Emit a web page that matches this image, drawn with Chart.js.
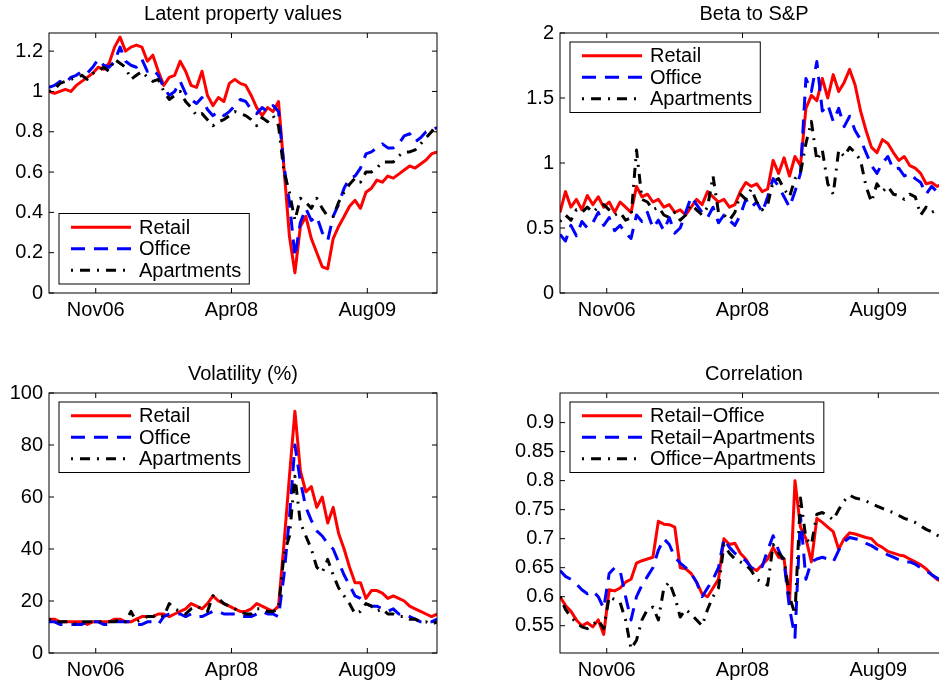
<!DOCTYPE html>
<html>
<head>
<meta charset="utf-8">
<script src="https://cdn.jsdelivr.net/npm/chart.js@4.4.1/dist/chart.umd.min.js"></script>
<style>
  html, body { margin: 0; padding: 0; background: #fff; overflow: hidden; width: 939px; height: 684px; }
  .panel { position: absolute; }
</style>
</head>
<body>
<div class="panel" style="left:0;top:0"><canvas id="latent" width="470" height="340"></canvas></div>
<div class="panel" style="left:470px;top:0"><canvas id="beta" width="500" height="340"></canvas></div>
<div class="panel" style="left:0;top:340px"><canvas id="vol" width="470" height="344"></canvas></div>
<div class="panel" style="left:470px;top:340px"><canvas id="corr" width="500" height="344"></canvas></div>
<script>
// x axis: days since start of sample, one observation every 20 days
var tickDays = [171, 668, 1165];
var tickNames = ['Nov06', 'Apr08', 'Aug09'];

var latentRetail = [1.00,0.99,1.00,1.01,1.00,1.03,1.05,1.07,1.09,1.12, 1.11,1.14,1.22,1.27,1.20,1.22,1.23,1.22,1.15,1.18,
    1.10,1.03,1.07,1.08,1.15,1.10,1.03,1.02,1.10,0.98, 0.93,0.97,0.95,1.04,1.06,1.04,1.03,0.98,0.92,0.88,
    0.92,0.90,0.95,0.62,0.28,0.10,0.33,0.38,0.27,0.20, 0.13,0.12,0.27,0.33,0.38,0.43,0.46,0.42,0.50,0.52,
    0.56,0.55,0.58,0.57,0.59,0.61,0.63,0.62,0.64,0.66, 0.69,0.70];
var latentOffice = [1.02,1.03,1.05,1.04,1.07,1.08,1.10,1.09,1.12,1.16, 1.13,1.12,1.15,1.22,1.15,1.13,1.12,1.16,1.10,1.11,
    1.08,1.02,0.98,1.00,1.05,0.99,0.96,0.94,0.97,0.91, 0.88,0.90,0.88,0.90,0.93,0.96,0.95,0.91,0.89,0.92,
    0.90,0.93,0.90,0.63,0.45,0.18,0.35,0.42,0.36,0.38, 0.30,0.26,0.38,0.44,0.52,0.57,0.58,0.62,0.69,0.70,
    0.72,0.74,0.72,0.72,0.74,0.78,0.79,0.75,0.77,0.80, 0.81,0.82];
var latentApart = [1.00,1.01,1.04,1.05,1.06,1.07,1.08,1.06,1.09,1.10, 1.12,1.10,1.16,1.14,1.12,1.06,1.08,1.10,1.07,1.05,
    1.06,1.00,0.96,0.98,1.00,0.95,0.92,0.88,0.89,0.86, 0.83,0.85,0.86,0.88,0.90,0.89,0.88,0.86,0.83,0.87,
    0.85,0.88,0.83,0.60,0.50,0.36,0.47,0.45,0.42,0.47, 0.42,0.38,0.38,0.45,0.50,0.54,0.57,0.55,0.60,0.60,
    0.62,0.65,0.65,0.65,0.68,0.70,0.70,0.71,0.74,0.77, 0.80,0.84];

var betaRetail = [0.62,0.78,0.66,0.72,0.64,0.75,0.68,0.74,0.66,0.70, 0.62,0.70,0.66,0.62,0.82,0.74,0.76,0.70,0.72,0.66,
    0.68,0.62,0.64,0.60,0.66,0.72,0.68,0.78,0.74,0.70, 0.72,0.66,0.68,0.78,0.85,0.82,0.84,0.78,0.80,1.02,
    0.92,1.04,0.90,1.05,0.98,1.42,1.52,1.48,1.65,1.50, 1.68,1.55,1.62,1.72,1.60,1.40,1.25,1.12,1.08,1.18,
    1.15,1.08,1.02,1.05,0.98,0.96,0.92,0.84,0.85,0.82, 0.84,0.82];
var betaOffice = [0.45,0.40,0.52,0.44,0.55,0.50,0.54,0.62,0.52,0.58, 0.48,0.52,0.46,0.42,0.60,0.55,0.62,0.50,0.56,0.48,
    0.58,0.46,0.50,0.62,0.74,0.68,0.62,0.58,0.66,0.54, 0.60,0.56,0.52,0.60,0.72,0.66,0.70,0.62,0.74,0.88,
    0.82,0.74,0.66,0.78,0.92,1.65,1.55,1.78,1.40,1.45, 1.32,1.42,1.28,1.36,1.25,1.18,1.08,0.98,0.92,1.00,
    1.05,0.95,0.96,0.90,0.92,0.88,0.85,0.76,0.82,0.78, 0.80,0.78];
var betaApart = [0.55,0.60,0.56,0.64,0.62,0.66,0.62,0.66,0.68,0.64, 0.60,0.62,0.56,0.58,1.10,0.72,0.70,0.64,0.66,0.60,
    0.58,0.62,0.56,0.60,0.68,0.64,0.60,0.66,0.90,0.62, 0.60,0.56,0.62,0.76,0.72,0.80,0.70,0.64,0.68,0.86,
    0.88,0.80,0.74,0.88,0.92,1.15,1.32,1.02,1.10,0.84, 0.76,1.10,1.05,1.12,1.08,1.02,0.82,0.70,0.84,0.78,
    0.82,0.76,0.75,0.72,0.76,0.74,0.60,0.66,0.62,0.64, 0.62,0.64];

var volRetail = [13,13,12,12,12,12,12,11,12,12, 12,12,13,13,12,12,13,14,14,14,
    15,15,14,15,16,17,19,18,17,19, 22,20,19,18,17,16,16,17,19,18,
    17,16,18,42,68,93,70,62,64,56, 60,50,56,46,40,33,27,27,21,24,
    24,23,21,22,21,20,18,17,16,15, 14,15];
var volOffice = [12,12,11,11,11,11,11,12,12,12, 11,11,12,12,12,12,11,11,12,12,
    11,14,15,15,15,14,15,14,14,15, 16,16,15,15,15,14,14,14,15,16,
    15,15,14,30,52,80,66,56,51,47, 45,42,40,35,30,26,22,21,19,18,
    18,17,16,17,15,15,14,13,12,12, 12,13];
var volApart = [13,12,12,12,12,11,12,12,12,12, 12,12,12,13,12,16,12,13,14,14,
    15,14,19,17,16,15,17,18,17,16, 22,21,19,18,17,16,15,15,17,17,
    16,16,17,38,45,68,50,45,40,33, 31,36,30,25,22,19,15,16,19,18,
    16,17,15,15,14,14,13,13,12,12, 11,12];

var corrRetailOffice = [0.600,0.585,0.575,0.560,0.550,0.555,0.548,0.560,0.535,0.612, 0.610,0.615,0.625,0.630,0.658,0.662,0.665,0.668,0.730,0.725,
    0.724,0.720,0.650,0.648,0.640,0.625,0.605,0.600,0.615,0.630, 0.700,0.690,0.692,0.675,0.665,0.650,0.645,0.655,0.665,0.685,
    0.668,0.665,0.590,0.800,0.720,0.700,0.660,0.735,0.728,0.720, 0.712,0.682,0.700,0.710,0.708,0.705,0.702,0.700,0.690,0.685,
    0.678,0.675,0.672,0.670,0.665,0.660,0.655,0.648,0.638,0.630, 0.626,0.622];
var corrRetailApart = [0.645,0.635,0.630,0.622,0.612,0.605,0.610,0.600,0.580,0.640, 0.650,0.645,0.600,0.560,0.600,0.620,0.635,0.650,0.680,0.700,
    0.690,0.668,0.658,0.650,0.640,0.625,0.600,0.615,0.630,0.650, 0.700,0.685,0.675,0.668,0.662,0.650,0.645,0.652,0.680,0.705,
    0.680,0.660,0.580,0.530,0.740,0.630,0.660,0.665,0.668,0.665, 0.660,0.680,0.695,0.702,0.700,0.698,0.692,0.688,0.682,0.678,
    0.672,0.668,0.664,0.660,0.660,0.656,0.650,0.645,0.638,0.632, 0.628,0.624];
var corrOfficeApart = [0.600,0.578,0.565,0.555,0.548,0.545,0.552,0.560,0.545,0.600, 0.595,0.590,0.560,0.510,0.525,0.560,0.578,0.582,0.560,0.615,
    0.625,0.600,0.565,0.578,0.570,0.560,0.550,0.578,0.600,0.615, 0.690,0.675,0.665,0.660,0.655,0.645,0.630,0.625,0.620,0.690,
    0.675,0.665,0.600,0.570,0.770,0.700,0.690,0.742,0.745,0.740, 0.732,0.750,0.765,0.775,0.770,0.768,0.765,0.760,0.756,0.752,
    0.748,0.745,0.740,0.735,0.732,0.728,0.722,0.716,0.712,0.706, 0.702,0.698];

var sampleDays = latentRetail.map((v, i) => i * 20);

var FONT = '"Liberation Sans", Arial, Helvetica, sans-serif';
Chart.defaults.font.family = FONT;
Chart.defaults.font.size = 20;
Chart.defaults.color = '#000';

var lineStyles = [
    {color: '#ff0000', dash: []},
    {color: '#0000ff', dash: [14, 9]},
    {color: '#000000', dash: [2, 7, 10, 7]}
];

// box, inward ticks on all four sides, title and boxed legend (matlab look)
var matlabAxes = {
    id: 'matlabAxes',
    afterDatasetsDraw(chart, args, opts) {
        var ctx = chart.ctx, a = chart.chartArea;
        ctx.save();
        ctx.strokeStyle = '#000';
        ctx.lineWidth = 1;
        ctx.setLineDash([]);
        ctx.strokeRect(a.left, a.top, a.right - a.left, a.bottom - a.top);
        var tl = 5;
        ctx.beginPath();
        chart.scales.x.ticks.forEach(t => {
            var px = chart.scales.x.getPixelForValue(t.value);
            ctx.moveTo(px, a.bottom); ctx.lineTo(px, a.bottom - tl);
            ctx.moveTo(px, a.top); ctx.lineTo(px, a.top + tl);
        });
        chart.scales.y.ticks.forEach(t => {
            var py = chart.scales.y.getPixelForValue(t.value);
            ctx.moveTo(a.left, py); ctx.lineTo(a.left + tl, py);
            ctx.moveTo(a.right, py); ctx.lineTo(a.right - tl, py);
        });
        ctx.stroke();

        ctx.fillStyle = '#000';
        ctx.font = '20px ' + FONT;
        ctx.textAlign = 'center';
        ctx.textBaseline = 'middle';
        ctx.fillText(opts.title, (a.left + a.right) / 2, a.top - 19);

        // legend
        var sets = chart.data.datasets;
        var maxW = Math.max(...sets.map(d => ctx.measureText(d.label).width));
        var rowH = 21.5;
        var boxW = 80 + maxW + 8, boxH = 3 * rowH + 6;
        var bx = a.left + 10;
        var by = opts.legendAt == 'bottom' ? a.bottom - 9 - boxH : a.top + 9;
        ctx.fillStyle = '#fff';
        ctx.fillRect(bx, by, boxW, boxH);
        ctx.strokeRect(bx, by, boxW, boxH);
        sets.forEach((ds, i) => {
            var cy = by + 3 + rowH * (i + 0.5);
            ctx.beginPath();
            ctx.setLineDash(ds.borderDash);
            ctx.strokeStyle = ds.borderColor;
            ctx.lineWidth = ds.borderWidth;
            ctx.moveTo(bx + 12, cy);
            ctx.lineTo(bx + 72, cy);
            ctx.stroke();
            ctx.setLineDash([]);
            ctx.fillStyle = '#000';
            ctx.textAlign = 'left';
            ctx.fillText(ds.label, bx + 80, cy + 1);
        });
        ctx.restore();
    }
};

function makeSet(label, values, k) {
    return {
        label: label,
        data: values.map((v, i) => ({x: sampleDays[i], y: v})),
        borderColor: lineStyles[k].color,
        borderDash: lineStyles[k].dash,
        borderWidth: 3,
        borderCapStyle: 'butt',
        borderJoinStyle: 'round',
        pointRadius: 0,
        tension: 0,
        fill: false,
        clip: 0,
        order: 3 - k
    };
}

function xAxis(height) {
    return {
        type: 'linear', min: 0, max: 1420,
        grid: {display: false, drawTicks: false},
        border: {display: false},
        afterBuildTicks: s => { s.ticks = tickDays.map(v => ({value: v})); },
        afterFit: s => { s.height = height; },
        ticks: {padding: 5, maxRotation: 0, autoSkip: false, callback: (v, i) => tickNames[i]}
    };
}

function yAxis(min, max, ticks, width) {
    return {
        min: min, max: max,
        grid: {display: false, drawTicks: false},
        border: {display: false},
        afterBuildTicks: s => { s.ticks = ticks.map(v => ({value: v})); },
        afterFit: s => { s.width = width; },
        ticks: {padding: 6, autoSkip: false, callback: v => String(v)}
    };
}

function newPanel(id, sets, title, legendAt, y, top, right, xHeight, yWidth) {
    var canvas = document.getElementById(id);
    return new Chart(canvas.getContext('2d'), {
        type: 'line',
        data: {datasets: sets},
        options: {
            responsive: false,
            animation: false,
            events: [],
            layout: {padding: {top: top, right: right, left: 0, bottom: 0}},
            plugins: {
                legend: {display: false},
                tooltip: {enabled: false},
                matlabAxes: {title: title, legendAt: legendAt}
            },
            scales: {x: xAxis(xHeight), y: y}
        },
        plugins: [matlabAxes]
    });
}

newPanel('latent', [
    makeSet('Retail', latentRetail, 0),
    makeSet('Office', latentOffice, 1),
    makeSet('Apartments', latentApart, 2)
], 'Latent property values', 'bottom', yAxis(0, 1.29, [0, 0.2, 0.4, 0.6, 0.8, 1, 1.2], 49), 33, 33, 47, 49);

newPanel('beta', [
    makeSet('Retail', betaRetail, 0),
    makeSet('Office', betaOffice, 1),
    makeSet('Apartments', betaApart, 2)
], 'Beta to S&P', 'top', yAxis(0, 2, [0, 0.5, 1, 1.5, 2], 90), 33, 22, 47, 90);

newPanel('vol', [
    makeSet('Retail', volRetail, 0),
    makeSet('Office', volOffice, 1),
    makeSet('Apartments', volApart, 2)
], 'Volatility (%)', 'top', yAxis(0, 100, [0, 20, 40, 60, 80, 100], 49), 53, 33, 31, 49);

newPanel('corr', [
    makeSet('Retail\u2212Office', corrRetailOffice, 0),
    makeSet('Retail\u2212Apartments', corrRetailApart, 1),
    makeSet('Office\u2212Apartments', corrOfficeApart, 2)
], 'Correlation', 'top', yAxis(0.503, 0.951, [0.55, 0.6, 0.65, 0.7, 0.75, 0.8, 0.85, 0.9], 90), 53, 22, 31, 90);
</script>
</body>
</html>
